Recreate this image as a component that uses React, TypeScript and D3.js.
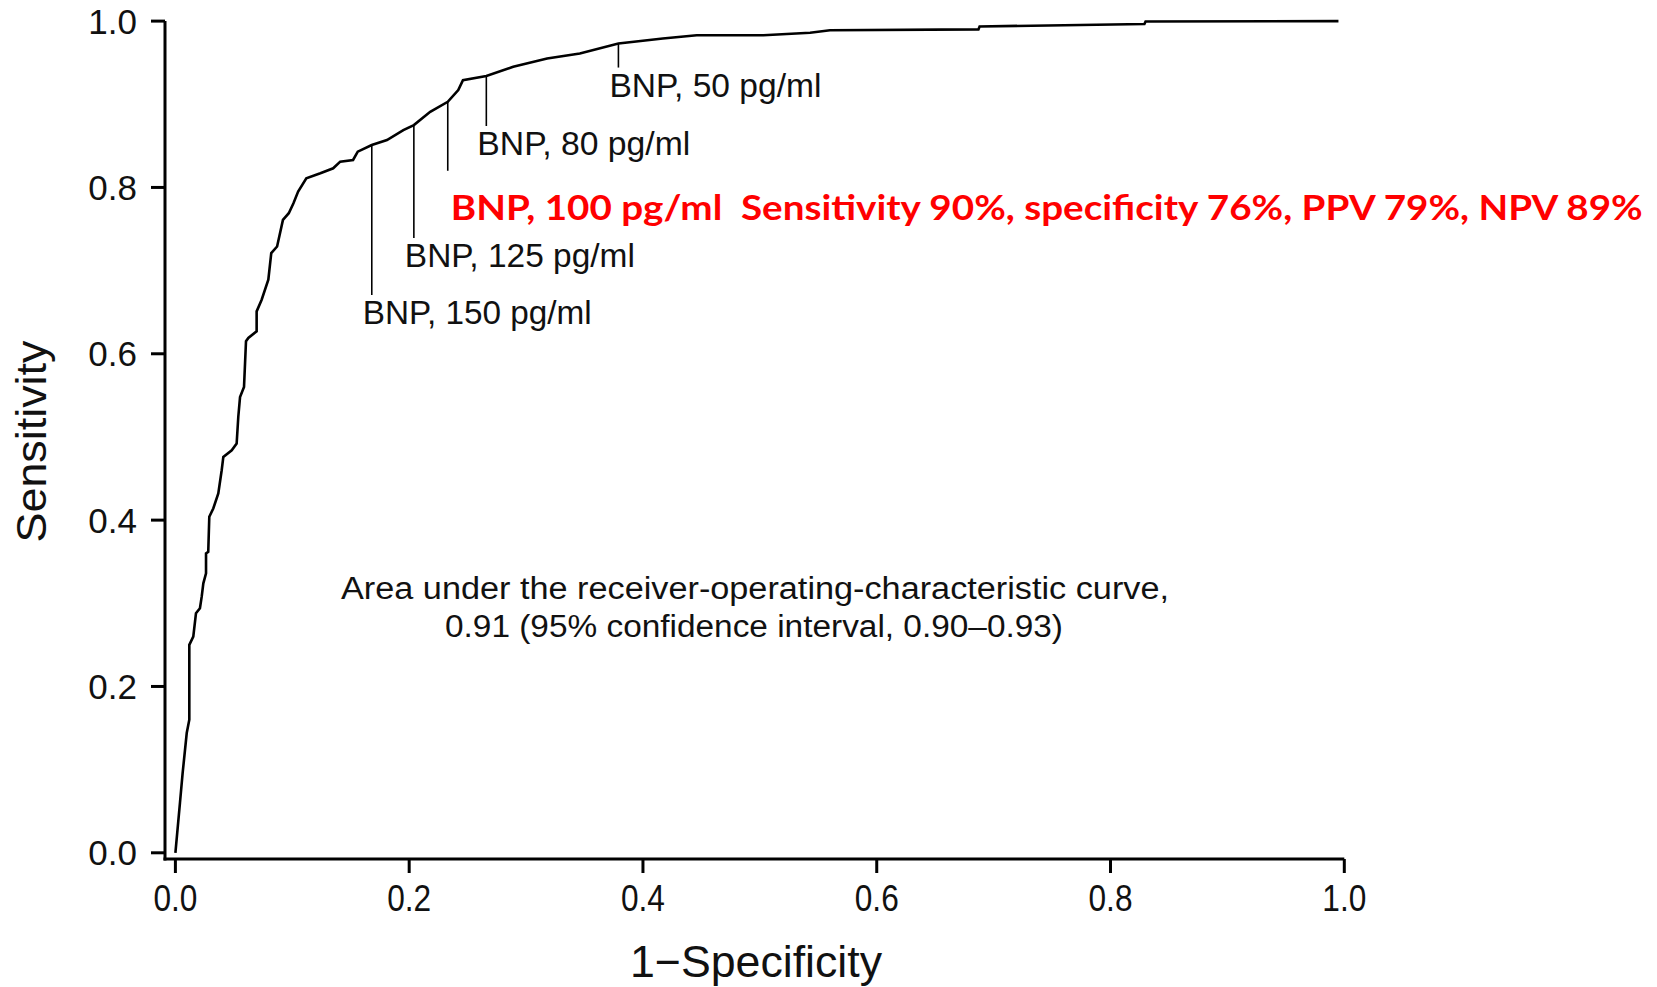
import React from "react";
import * as d3 from "d3";

// ROC curve points (1 - specificity, sensitivity)
const fpr = [
  0, 0.0039, 0.0062, 0.0097, 0.0119, 0.0119, 0.0153, 0.0176, 0.021, 0.0225,
  0.0239, 0.0262, 0.0262, 0.0281, 0.029, 0.0324, 0.0367, 0.0396, 0.041, 0.0482,
  0.0524, 0.0538, 0.0553, 0.0587, 0.0604, 0.0624, 0.0695, 0.0695, 0.0738, 0.0795,
  0.082, 0.087, 0.092, 0.097, 0.101, 0.105, 0.112, 0.124, 0.135, 0.141,
  0.152, 0.156, 0.168, 0.181, 0.195, 0.204, 0.218, 0.233, 0.242, 0.246,
  0.266, 0.289, 0.318, 0.346, 0.379, 0.417, 0.446, 0.503, 0.543, 0.56,
  0.687, 0.688, 0.829, 0.83, 0.995,
];
const tpr = [
  0, 0.06, 0.096, 0.144, 0.16, 0.25, 0.26, 0.288, 0.294, 0.308,
  0.324, 0.336, 0.36, 0.362, 0.404, 0.414, 0.432, 0.46, 0.476, 0.484,
  0.492, 0.524, 0.548, 0.56, 0.615, 0.619, 0.627, 0.651, 0.665, 0.689,
  0.721, 0.729, 0.761, 0.769, 0.781, 0.795, 0.811, 0.817, 0.823, 0.831,
  0.833, 0.843, 0.851, 0.857, 0.869, 0.875, 0.891, 0.903, 0.917, 0.929,
  0.934, 0.945, 0.955, 0.961, 0.973, 0.979, 0.983, 0.983, 0.986, 0.989,
  0.99, 0.9935, 0.9965, 0.9995, 1.0,
];

const xTicks = [0, 0.2, 0.4, 0.6, 0.8, 1.0];
const yTicks = [0, 0.2, 0.4, 0.6, 0.8, 1.0];

// BNP cut-off points marked on the curve
const cutoffLabels = ["BNP, 150 pg/ml", "BNP, 125 pg/ml", "BNP, 80 pg/ml", "BNP, 50 pg/ml"];
const cutoffFpr = [0.168, 0.204, 0.266, 0.379];
const cutoffTpr = [0.851, 0.875, 0.934, 0.973];

const highlightFpr = 0.233;
const highlightTpr = 0.903;
const highlightText = "BNP, 100 pg/ml  Sensitivity 90%, specificity 76%, PPV 79%, NPV 89%";

const aucLines = [
  "Area under the receiver-operating-characteristic curve,",
  "0.91 (95% confidence interval, 0.90\u20130.93)",
];

const xTitle = "1\u2212Specificity";
const yTitle = "Sensitivity";

export default function App() {
  const W = 1657;
  const H = 987;
  const x = d3.scaleLinear().domain([0, 1]).range([175.4, 1344.3]);
  const y = d3.scaleLinear().domain([0, 1]).range([852.8, 21.1]);
  const axisX = 165;
  const axisY = 859;
  const tickLen = 14;

  const pts: [number, number][] = fpr.map((f, i) => [f, tpr[i]]);
  const line = d3
    .line<[number, number]>()
    .x((d) => x(d[0]))
    .y((d) => y(d[1]));

  // styling for the cut-off annotations
  const leaderLens = [150, 113, 50, 24];
  const labelWidths = [229, 230, 213, 212];
  const highlightLeader = 69;

  const font = "'Liberation Sans', Arial, sans-serif";

  return (
    <svg
      width={W}
      height={H}
      style={{ position: "fixed", left: 0, top: 0, background: "#fff" }}
    >
      <rect x={0} y={0} width={W} height={H} fill="#fff" />
      {/* axes */}
      <line x1={axisX} y1={y(1)} x2={axisX} y2={axisY + 1.5} stroke="#000" strokeWidth={3} />
      <line x1={axisX - 1.5} y1={axisY} x2={x(1)} y2={axisY} stroke="#000" strokeWidth={3} />
      {yTicks.map((t) => (
        <g key={"y" + t}>
          <line x1={axisX - tickLen} x2={axisX} y1={y(t)} y2={y(t)} stroke="#000" strokeWidth={3} />
          <text
            x={137}
            y={y(t) + 12.5}
            textAnchor="end"
            fontFamily={font}
            fontSize={35}
            fill="#111"
          >
            {t.toFixed(1)}
          </text>
        </g>
      ))}
      {xTicks.map((t) => (
        <g key={"x" + t}>
          <line x1={x(t)} x2={x(t)} y1={axisY} y2={axisY + tickLen} stroke="#000" strokeWidth={3} />
          <text
            x={x(t)}
            y={911}
            textAnchor="middle"
            fontFamily={font}
            fontSize={36}
            textLength={44}
            lengthAdjust="spacingAndGlyphs"
            fill="#111"
          >
            {t.toFixed(1)}
          </text>
        </g>
      ))}
      {/* axis titles */}
      <text
        x={756}
        y={977}
        textAnchor="middle"
        fontFamily={font}
        fontSize={44}
        textLength={252}
        lengthAdjust="spacingAndGlyphs"
        fill="#111"
      >
        {xTitle}
      </text>
      <text
        transform={`translate(46,441.5) rotate(-90)`}
        textAnchor="middle"
        fontFamily={font}
        fontSize={43}
        textLength={202}
        lengthAdjust="spacingAndGlyphs"
        fill="#111"
      >
        {yTitle}
      </text>

      {/* ROC curve */}
      <path d={line(pts) || ""} fill="none" stroke="#000" strokeWidth={2.6} strokeLinejoin="miter" />

      {/* cut-off annotations */}
      {cutoffLabels.map((lab, i) => {
        const px = x(cutoffFpr[i]);
        const py = y(cutoffTpr[i]);
        const end = py + leaderLens[i];
        return (
          <g key={lab}>
            <line x1={px} x2={px} y1={py} y2={end} stroke="#000" strokeWidth={1.6} />
            <text
              x={px - 9}
              y={end + 29}
              fontFamily={font}
              fontSize={33}
              textLength={labelWidths[i]}
              lengthAdjust="spacingAndGlyphs"
              fill="#111"
            >
              {lab}
            </text>
          </g>
        );
      })}
      <line
        x1={x(highlightFpr)}
        x2={x(highlightFpr)}
        y1={y(highlightTpr)}
        y2={y(highlightTpr) + highlightLeader}
        stroke="#000"
        strokeWidth={1.6}
      />
      <text
        x={x(highlightFpr) + 3}
        y={y(highlightTpr) + highlightLeader + 49}
        fontFamily="Lato, 'Open Sans', sans-serif"
        fontWeight="bold"
        fontSize={35}
        textLength={1192}
        lengthAdjust="spacingAndGlyphs"
        fill="#ff0000"
        style={{ whiteSpace: "pre" }}
      >
        {highlightText}
      </text>

      {/* AUC annotation */}
      <text
        x={755}
        y={599}
        textAnchor="middle"
        fontFamily={font}
        fontSize={31}
        textLength={828}
        lengthAdjust="spacingAndGlyphs"
        fill="#111"
      >
        {aucLines[0]}
      </text>
      <text
        x={754}
        y={637}
        textAnchor="middle"
        fontFamily={font}
        fontSize={31}
        textLength={618}
        lengthAdjust="spacingAndGlyphs"
        fill="#111"
      >
        {aucLines[1]}
      </text>
    </svg>
  );
}
